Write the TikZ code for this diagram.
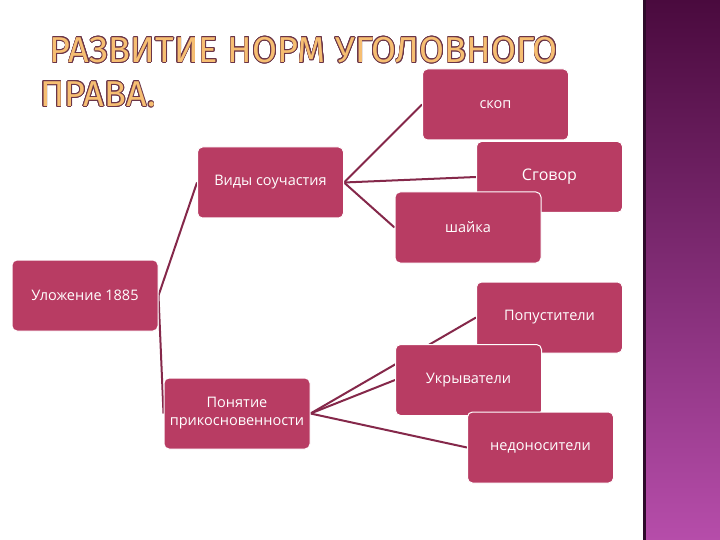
\documentclass[tikz,border=0pt]{standalone}
\usepackage{fontspec}
\setmainfont{Open Sans}
\newfontfamily\titlefont[LetterSpace=0.5]{Fira Sans}
\usepackage{contour}
\usetikzlibrary{backgrounds}
\definecolor{boxc}{HTML}{B83C63}
\definecolor{linec}{HTML}{85284A}
\definecolor{bandtop}{HTML}{4A0A3E}
\definecolor{bandbot}{HTML}{B64DAA}
\definecolor{banddark}{HTML}{2E0A2A}
\definecolor{titlefill}{HTML}{F6BE72}
\definecolor{titleline}{HTML}{6A3448}
\contourlength{0.7pt}
\tikzset{
  sbox/.style={rectangle, rounded corners=5pt, fill=boxc, draw=white, line width=1pt,
    text=white, minimum width=146pt, minimum height=71pt, inner sep=0pt, align=center,
    font=\fontsize{14.5}{18}\selectfont},
  conn/.style={draw=linec, line width=2pt}
}
\begin{document}
\begin{tikzpicture}[x=1pt,y=-1pt]
\useasboundingbox (0,0) rectangle (720,540);
% right band
\shade[top color=bandtop, bottom color=bandbot] (643,0) rectangle (720,540);
\fill[banddark] (643,0) rectangle (646,540);
% title
\node[anchor=north west, inner sep=0pt, align=left, font=\titlefont\fontsize{36}{44}\selectfont] (title) at (40,37)
  {\contour{titleline}{\textcolor{titlefill}{\ РАЗВИТИЕ НОРМ УГОЛОВНОГО}}\\
   \contour{titleline}{\textcolor{titlefill}{ПРАВА.}}};
% boxes
\node[sbox] (skop) at (495.5,104.5) {скоп};
\node[sbox] (sgovor) at (549.5,177) {\fontsize{16}{18}\selectfont Сговор};
\node[sbox] (shayka) at (468,227.5) {шайка};
\node[sbox] (vidy) at (270.5,182.5) {Виды соучастия};
\node[sbox] (ulozh) at (85,295.5) {Уложение 1885};
\node[sbox] (ponyat) at (237,413.5) {Понятие\\прикосновенности};
\node[sbox] (popust) at (549.5,317.5) {Попустители};
\node[sbox] (ukryv) at (468.5,380) {Укрыватели};
\node[sbox] (nedon) at (540.5,447.5) {недоносители};
% connectors
\begin{scope}[on background layer]
\fill[white] (0,0) rectangle (643,540);
\draw[conn] (ulozh.east) -- (vidy.west);
\draw[conn] (ulozh.east) -- (ponyat.west);
\draw[conn] (vidy.east) -- (skop.west);
\draw[conn] (vidy.east) -- (sgovor.west);
\draw[conn] (vidy.east) -- (shayka.west);
\draw[conn] (ponyat.east) -- (popust.west);
\draw[conn] (ponyat.east) -- (ukryv.west);
\draw[conn] (ponyat.east) -- (nedon.west);
\end{scope}
\end{tikzpicture}
\end{document}
